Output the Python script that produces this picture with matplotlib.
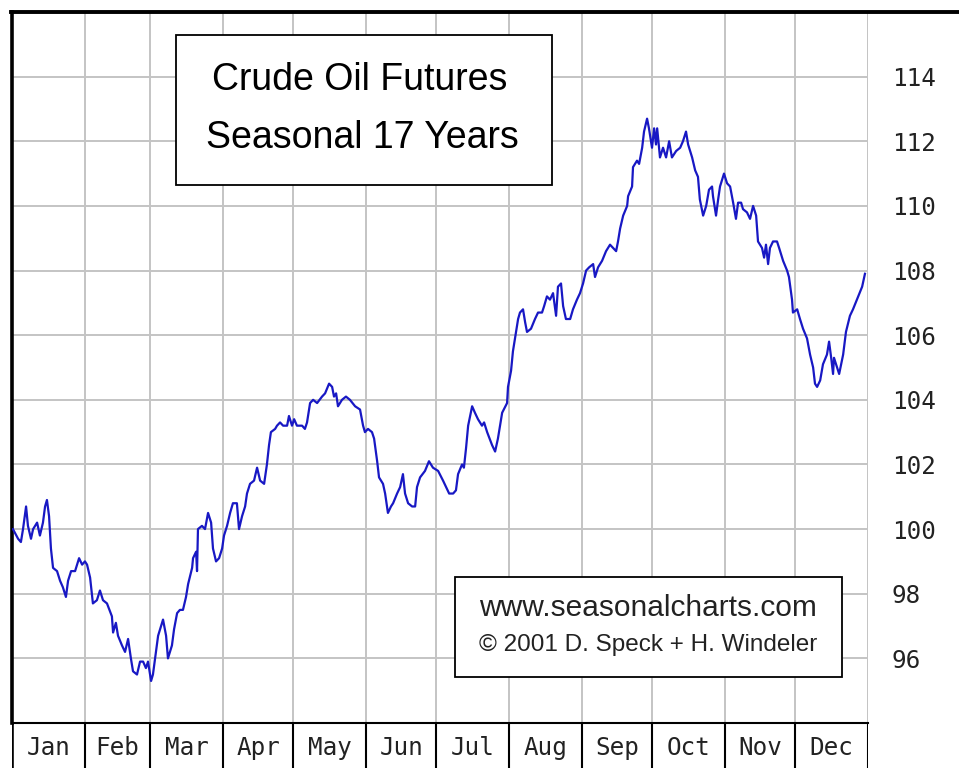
import matplotlib
matplotlib.use("Agg")
import matplotlib.pyplot as plt
from matplotlib.patches import Rectangle
from matplotlib.lines import Line2D

# seasonal pattern, day of year -> index value
days = [0.4, 2.6, 3.8, 4.7, 6.0, 6.8, 8.1, 9.0, 10.7, 11.9, 13.2, 14.1, 14.9, 15.8, 16.6,
        17.5, 19.2, 20.5, 21.7, 23.0, 23.9, 25.2, 26.9, 28.6, 29.9, 31.1, 32.0, 33.3, 34.5,
        36.2, 37.5, 38.8, 40.5, 42.6, 43.1, 44.3, 45.2, 46.9, 48.2, 49.5, 50.7, 51.6, 53.3,
        54.6, 55.9, 57.1, 58.0, 59.3, 60.1, 61.4, 62.3, 64.4, 65.7, 66.5, 68.2, 69.1, 70.4,
        71.6, 72.9, 74.2, 75.1, 76.8, 77.2, 78.5, 78.9, 79.3, 81.0, 82.3, 83.6, 84.9, 85.7,
        87.0, 88.3, 89.6, 90.4, 91.7, 93.0, 94.2, 95.9, 96.8, 98.1, 99.4, 100.2, 101.5, 103.2,
        104.5, 105.8, 107.5, 108.7, 109.6, 110.4, 112.2, 113.0, 114.3, 115.6, 117.3, 118.1,
        119.4, 120.3, 121.5, 123.7, 124.9, 125.8, 127.1, 128.4, 130.1, 132.2, 133.5, 135.2,
        136.5, 137.3, 138.2, 139.0, 140.7, 142.4, 144.1, 146.3, 148.4, 149.7, 150.5, 151.8,
        153.5, 154.4, 155.7, 156.5, 158.2, 159.1, 160.3, 161.6, 162.5, 164.2, 165.5, 166.7,
        167.6, 168.9, 170.6, 171.9, 172.7, 174.0, 176.1, 177.8, 179.5, 181.7, 183.8, 186.4,
        188.1, 189.3, 190.2, 191.9, 192.7, 193.6, 194.5, 196.2, 197.4, 198.7, 200.4, 201.3,
        202.6, 204.7, 206.0, 207.2, 209.0, 211.1, 211.5, 212.8, 213.6, 214.9, 215.8, 216.6,
        217.9, 218.8, 219.6, 221.3, 223.0, 224.3, 226.0, 226.9, 228.1, 229.4, 230.7, 232.0,
        232.8, 234.1, 235.0, 236.2, 238.0, 239.2, 240.9, 242.2, 243.5, 244.8, 246.1, 247.8,
        248.6, 249.9, 251.6, 253.3, 255.0, 256.3, 257.6, 258.4, 259.3, 260.6, 262.3, 262.7,
        264.4, 264.8, 266.5, 267.4, 268.7, 269.5, 270.8, 271.6, 272.9, 273.8, 274.6, 275.1,
        276.3, 277.6, 278.9, 280.2, 281.4, 283.2, 284.9, 286.1, 287.4, 288.3, 290.0, 291.3,
        292.5, 293.3, 294.7, 296.0, 297.2, 298.5, 298.9, 300.2, 301.1, 301.9, 303.6, 304.9,
        306.2, 307.5, 308.7, 309.6, 310.9, 311.7, 313.4, 314.7, 316.0, 317.3, 318.1, 319.8,
        320.7, 321.5, 322.4, 323.2, 324.5, 326.2, 327.1, 328.8, 330.5, 331.3, 332.6, 333.0,
        334.8, 336.0, 337.3, 339.0, 340.3, 341.6, 342.4, 343.3, 344.6, 345.8, 347.5, 348.4,
        349.3, 350.1, 350.5, 351.8, 352.7, 354.4, 355.6, 357.3, 358.6, 360.8, 362.5, 363.7]
values = [100.0, 99.7, 99.6, 100.0, 100.7, 100.1, 99.7, 100.0, 100.2, 99.8, 100.2, 100.7, 100.9, 100.4, 99.4,
          98.8, 98.7, 98.4, 98.2, 97.9, 98.4, 98.7, 98.7, 99.1, 98.9, 99.0, 98.9, 98.5, 97.7,
          97.8, 98.1, 97.8, 97.7, 97.3, 96.8, 97.1, 96.7, 96.4, 96.2, 96.6, 96.0, 95.6, 95.5,
          95.9, 95.9, 95.7, 95.9, 95.3, 95.5, 96.2, 96.7, 97.2, 96.7, 96.0, 96.4, 96.9, 97.4,
          97.5, 97.5, 97.9, 98.3, 98.8, 99.1, 99.3, 98.7, 100.0, 100.1, 100.0, 100.5, 100.2, 99.4,
          99.0, 99.1, 99.4, 99.8, 100.1, 100.5, 100.8, 100.8, 100.0, 100.4, 100.7, 101.1, 101.4, 101.5,
          101.9, 101.5, 101.4, 102.0, 102.6, 103.0, 103.1, 103.2, 103.3, 103.2, 103.2, 103.5,
          103.2, 103.4, 103.2, 103.2, 103.1, 103.3, 103.9, 104.0, 103.9, 104.1, 104.2, 104.5,
          104.4, 104.1, 104.2, 103.8, 104.0, 104.1, 104.0, 103.8, 103.7, 103.2, 103.0, 103.1,
          103.0, 102.8, 102.1, 101.6, 101.4, 101.1, 100.5, 100.7, 100.8, 101.1, 101.3, 101.7,
          101.1, 100.8, 100.7, 100.7, 101.3, 101.6, 101.8, 102.1, 101.9, 101.8, 101.5, 101.1,
          101.1, 101.2, 101.7, 102.0, 101.9, 102.5, 103.2, 103.8, 103.6, 103.4, 103.2, 103.3,
          103.0, 102.6, 102.4, 102.8, 103.6, 103.9, 104.4, 104.9, 105.5, 106.1, 106.5, 106.7,
          106.8, 106.4, 106.1, 106.2, 106.5, 106.7, 106.7, 106.9, 107.2, 107.1, 107.3, 106.6,
          107.5, 107.6, 106.9, 106.5, 106.5, 106.8, 107.1, 107.3, 107.6, 108.0, 108.1, 108.2,
          107.8, 108.1, 108.3, 108.6, 108.8, 108.7, 108.6, 108.9, 109.3, 109.7, 110.0, 110.3,
          110.6, 111.2, 111.4, 111.3, 111.8, 112.3, 112.7, 112.4, 111.8, 112.4, 111.9, 112.4,
          111.5, 111.8, 111.5, 112.0, 111.5, 111.7, 111.8, 112.0, 112.3, 111.9, 111.5, 111.1,
          110.9, 110.2, 109.7, 110.0, 110.5, 110.6, 110.3, 109.7, 110.2, 110.6, 111.0, 110.7,
          110.6, 110.1, 109.6, 110.1, 110.1, 109.9, 109.8, 109.6, 110.0, 109.7, 108.9, 108.7,
          108.4, 108.8, 108.2, 108.7, 108.9, 108.9, 108.7, 108.3, 108.0, 107.8, 107.1, 106.7,
          106.8, 106.5, 106.2, 105.9, 105.4, 105.0, 104.5, 104.4, 104.6, 105.1, 105.4, 105.8,
          105.3, 104.8, 105.3, 105.0, 104.8, 105.4, 106.1, 106.6, 106.8, 107.2, 107.5, 107.9]

months = ["Jan", "Feb", "Mar", "Apr", "May", "Jun", "Jul", "Aug", "Sep", "Oct", "Nov", "Dec"]
month_days = [31, 28, 31, 30, 31, 30, 31, 31, 30, 31, 30, 31]
y_ticks = [96, 98, 100, 102, 104, 106, 108, 110, 112, 114]

title_lines = ["Crude Oil Futures", "Seasonal 17 Years"]
credit_lines = ["www.seasonalcharts.com", "\u00a9 2001 D. Speck + H. Windeler"]

edges = [0]
for d in month_days:
    edges.append(edges[-1] + d)

W, H = 959, 768
fig = plt.figure(figsize=(W / 100, H / 100), dpi=100)
fig.patch.set_facecolor("white")

L, R, T, B = 12, 868, 12, 723
ax = fig.add_axes([L / W, 1 - B / H, (R - L) / W, (B - T) / H])
ax.set_xlim(0, 365)
ax.set_ylim(94, 116)

grid = "#c4c4c4"
for e in edges[1:]:
    ax.axvline(e, color=grid, lw=1.4, zorder=1)
for v in y_ticks:
    ax.axhline(v, color=grid, lw=1.4, zorder=1)

ax.plot(days, values, color="#1818c4", lw=1.6, zorder=3)

ax.set_xticks([])
ax.yaxis.tick_right()
ax.set_yticks(y_ticks)
ax.set_yticklabels([str(v) for v in y_ticks], family="DejaVu Sans Mono", fontsize=17.5)
ax.tick_params(axis="y", length=0, pad=17, colors="#222222")

for s in ["top", "right"]:
    ax.spines[s].set_visible(False)
ax.spines["left"].set_linewidth(2.6)
ax.spines["left"].set_color("black")
ax.spines["bottom"].set_linewidth(1.5)
ax.spines["bottom"].set_color("black")
ax.axvline(365, color=grid, lw=1.4, zorder=1)

# title box
ax.add_patch(Rectangle((0.1916, 0.7567), 0.4392, 0.211, transform=ax.transAxes,
                       facecolor="white", edgecolor="black", lw=1.3, zorder=5))
ax.text(0.4065, 0.904, title_lines[0], transform=ax.transAxes, ha="center", va="center",
        family="Liberation Sans", fontsize=27, zorder=6)
ax.text(0.409, 0.823, title_lines[1], transform=ax.transAxes, ha="center", va="center",
        family="Liberation Sans", fontsize=27, zorder=6)

# credit box
ax.add_patch(Rectangle((0.5175, 0.0647), 0.4521, 0.1406, transform=ax.transAxes,
                       facecolor="white", edgecolor="black", lw=1.3, zorder=5))
ax.text(0.743, 0.162, credit_lines[0], transform=ax.transAxes, ha="center", va="center",
        family="Liberation Sans", fontsize=21.5, color="#222222", zorder=6)
ax.text(0.743, 0.110, credit_lines[1], transform=ax.transAxes, ha="center", va="center",
        family="Liberation Sans", fontsize=17.5, color="#222222", zorder=6)

# month strip
axm = fig.add_axes([L / W, 0, (R - L) / W, (H - B) / H])
axm.set_xlim(0, 365)
axm.set_ylim(0, 1)
axm.axis("off")
for e in edges[1:]:
    axm.axvline(e, color="black", lw=1.5)
for i, m in enumerate(months):
    axm.text((edges[i] + edges[i + 1]) / 2, 0.45, m, ha="center", va="center",
             family="DejaVu Sans Mono", fontsize=17.5, color="#222222")
axm.axvline(0, color="black", lw=2.6)

# heavy top rule running to the right edge
fig.add_artist(Line2D([L / W - 0.0014, 1], [1 - T / H, 1 - T / H], color="black", lw=2.8))

fig.savefig("out.png", dpi=100, facecolor="white")
